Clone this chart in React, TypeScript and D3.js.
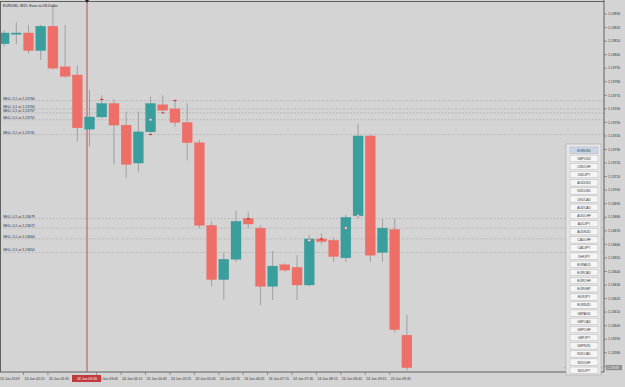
import React from 'react';
import * as d3 from 'd3';

// EURUSD M15 - velas + ordenes SELL + lista de simbolos
const opens = [1.13808, 1.13815, 1.13816, 1.13803, 1.13821, 1.13791, 1.13785, 1.13745, 1.13754, 1.13764, 1.13748, 1.13720, 1.13743, 1.13763, 1.13760, 1.13750, 1.13735, 1.13674, 1.13634, 1.13649, 1.13679, 1.13672, 1.13629, 1.13645, 1.13643, 1.13630, 1.13664, 1.13663, 1.13650, 1.13681, 1.13740, 1.13654, 1.13671, 1.13593];
const highs = [1.13818, 1.13824, 1.13822, 1.13822, 1.13836, 1.13822, 1.13792, 1.13774, 1.13770, 1.13767, 1.13758, 1.13758, 1.13769, 1.13770, 1.13767, 1.13764, 1.13737, 1.13677, 1.13654, 1.13685, 1.13684, 1.13674, 1.13655, 1.13646, 1.13652, 1.13667, 1.13668, 1.13665, 1.13682, 1.13749, 1.13741, 1.13679, 1.13679, 1.13608];
const lows = [1.13806, 1.13808, 1.13801, 1.13796, 1.13789, 1.13783, 1.13736, 1.13732, 1.13753, 1.13719, 1.13709, 1.13713, 1.13741, 1.13758, 1.13747, 1.13722, 1.13672, 1.13629, 1.13619, 1.13647, 1.13672, 1.13615, 1.13619, 1.13640, 1.13619, 1.13629, 1.13660, 1.13647, 1.13647, 1.13679, 1.13647, 1.13647, 1.13595, 1.13567];
const closes = [1.13816, 1.13816, 1.13803, 1.13821, 1.13790, 1.13784, 1.13746, 1.13754, 1.13764, 1.13748, 1.13719, 1.13743, 1.13764, 1.13759, 1.13750, 1.13735, 1.13674, 1.13634, 1.13649, 1.13677, 1.13675, 1.13629, 1.13644, 1.13641, 1.13630, 1.13664, 1.13662, 1.13651, 1.13680, 1.13740, 1.13652, 1.13672, 1.13597, 1.13569];

// etiquetas de tiempo y la vela donde van
const timeLabels = ['24 Jun 2019', '24 Jun 02:15', '24 Jun 02:45', '24 Jun 03:45', '24 Jun 04:15', '24 Jun 04:45', '24 Jun 05:15', '24 Jun 05:45', '24 Jun 06:15', '24 Jun 06:45', '24 Jun 07:15', '24 Jun 07:45', '24 Jun 08:15', '24 Jun 08:45', '24 Jun 09:15', '24 Jun 09:45'];
const timeCandles = [0, 2, 4, 8, 10, 12, 14, 16, 18, 20, 22, 24, 26, 28, 30, 32];
const cursorLabel = '24 Jun 03:30';
const priceTicks = [1.13830, 1.13820, 1.13810, 1.13800, 1.13790, 1.13780, 1.13770, 1.13760, 1.13750, 1.13740, 1.13730, 1.13720, 1.13710, 1.13700, 1.13690, 1.13680, 1.13670, 1.13660, 1.13650, 1.13640, 1.13630, 1.13620, 1.13610, 1.13600, 1.13590, 1.13580, 1.13570];
const sellLevels = [1.13766, 1.13760, 1.13757, 1.13752, 1.13741, 1.13679, 1.13672, 1.13664, 1.13654];
const symbols = ['EURUSD', 'GBPUSD', 'USDCHF', 'USDJPY', 'AUDUSD', 'NZDUSD', 'USDCAD', 'AUDCAD', 'AUDCHF', 'AUDJPY', 'AUDNZD', 'CADCHF', 'CADJPY', 'CHFJPY', 'EURAUD', 'EURCAD', 'EURCHF', 'EURGBP', 'EURJPY', 'EURNZD', 'GBPAUD', 'GBPCAD', 'GBPCHF', 'GBPJPY', 'GBPNZD', 'NZDCAD', 'NZDCHF', 'NZDJPY'];
// marcas de entrada (circulos) y flechas de orden (rayitas rojas)
const markerCandles = [12, 28, 29, 25];
const markerPrices = [1.13752, 1.13672, 1.13681, 1.13663];
const arrowCandles = [8, 12, 13, 14, 20, 26];
const arrowPrices = [1.13767, 1.13741, 1.13757, 1.13766, 1.13679, 1.13664];

const W = 625, H = 387;
const right = 604, bottom = 372;
const bull = '#3a9e9c', bear = '#ee6e68';
const font = 'Liberation Sans, Arial, sans-serif';

export default function App() {
  const idx = opens.map((_, i) => i);
  const x = d3.scaleBand<number>().domain(idx).range([-3.1, 414.1]).padding(0.18);
  const y = d3.scaleLinear().domain([1.13830, 1.13570]).range([14, 366.3]);
  const cx = (i: number) => (x(i) as number) + x.bandwidth() / 2;
  const redX = 87;
  const last = closes[closes.length - 1];

  return (
    <svg width={W} height={H} style={{ position: 'absolute', left: 0, top: 0, display: 'block' }} fontFamily={font}>
      <rect width={W} height={H} fill="#d4d4d4" />
      {/* ordenes */}
      {sellLevels.map((v, i) => (
        <g key={'s' + i}>
          <line x1={0} x2={right} y1={y(v)} y2={y(v)} stroke="#a9a9a9" strokeWidth={0.6} strokeDasharray="2 1.5" />
          <text x={3} y={y(v) - 1} fontSize={3.5} fill="#333">{'SELL 0.1 at ' + v.toFixed(5)}</text>
        </g>
      ))}
      {/* linea roja */}
      <line x1={redX} x2={redX} y1={0} y2={bottom} stroke="#b03030" strokeWidth={0.8} />
      {/* velas */}
      {idx.map(i => {
        const up = closes[i] >= opens[i];
        const c = up ? bull : bear;
        const top = y(Math.max(opens[i], closes[i]));
        const h = Math.max(1, Math.abs(y(opens[i]) - y(closes[i])));
        return (
          <g key={i}>
            <line x1={cx(i)} x2={cx(i)} y1={y(highs[i])} y2={y(lows[i])} stroke="#8a8a8a" strokeWidth={0.7} />
            <rect x={x(i)} y={top} width={x.bandwidth()} height={h} fill={c} stroke={c} strokeWidth={0.3} />
          </g>
        );
      })}
      {arrowCandles.map((c, i) => (
        <line key={'a' + i} x1={cx(c) - 1.5} x2={cx(c) + 1.5} y1={y(arrowPrices[i])} y2={y(arrowPrices[i])} stroke="#d02020" strokeWidth={1} />
      ))}
      {markerCandles.map((c, i) => (
        <circle key={'m' + i} cx={cx(c)} cy={y(markerPrices[i])} r={1.3} fill="#f4f4f4" stroke="#c04040" strokeWidth={0.4} />
      ))}
      {/* marco */}
      <line x1={0} x2={right} y1={1.5} y2={1.5} stroke="#606060" strokeWidth={1} />
      <line x1={0.5} x2={0.5} y1={1} y2={bottom} stroke="#606060" strokeWidth={1} />
      <line x1={right} x2={right} y1={0} y2={bottom} stroke="#606060" strokeWidth={1} />
      <line x1={0} x2={right} y1={bottom} y2={bottom} stroke="#606060" strokeWidth={1} />
      <path d={`M${redX - 2},0 L${redX + 2},0 L${redX},3 Z`} fill="#222" />
      <text x={3} y={7} fontSize={3.6} fill="#222">EURUSD, M15:  Euro vs US Dollar</text>
      {/* eje de precios */}
      {priceTicks.map((v, i) => (
        <g key={'p' + i}>
          <line x1={right} x2={right + 3} y1={y(v)} y2={y(v)} stroke="#606060" strokeWidth={0.6} />
          <text x={right + 4} y={y(v) + 1.2} fontSize={3.4} fill="#333">{v.toFixed(5)}</text>
        </g>
      ))}
      <line x1={right - 40} x2={right} y1={y(last)} y2={y(last)} stroke="#909090" strokeWidth={0.5} />
      <rect x={right + 2} y={y(last) - 2.5} width={16} height={5} fill="#8c8c8c" />
      <text x={right + 3} y={y(last) + 1.3} fontSize={3.4} fill="#f0f0f0">{last.toFixed(5)}</text>
      {/* eje de tiempo */}
      {timeLabels.map((t, i) => {
        const tx = x(timeCandles[i]) as number;
        return (
          <g key={'t' + i}>
            <line x1={tx} x2={tx} y1={bottom} y2={bottom + 3} stroke="#606060" strokeWidth={0.6} />
            <text x={tx + 1} y={bottom + 8} fontSize={3.5} fill="#333">{t}</text>
          </g>
        );
      })}
      <rect x={redX - 15} y={bottom + 3} width={29} height={7} fill="#c0393b" />
      <text x={redX} y={bottom + 8} fontSize={3.5} fill="#fff" textAnchor="middle">{cursorLabel}</text>
      {/* lista de simbolos */}
      <rect x={566} y={144} width={35} height={231} fill="#e6e6e6" stroke="#9a9a9a" strokeWidth={0.5} />
      {symbols.map((s, i) => (
        <g key={s}>
          <rect x={570} y={147 + i * 8.15} width={28} height={6.4} fill={i === 0 ? '#c9d6ea' : '#f5f5f5'} stroke="#a8a8a8" strokeWidth={0.4} />
          <text x={584} y={151.6 + i * 8.15} fontSize={3.2} fill="#333" textAnchor="middle">{s}</text>
        </g>
      ))}
    </svg>
  );
}
